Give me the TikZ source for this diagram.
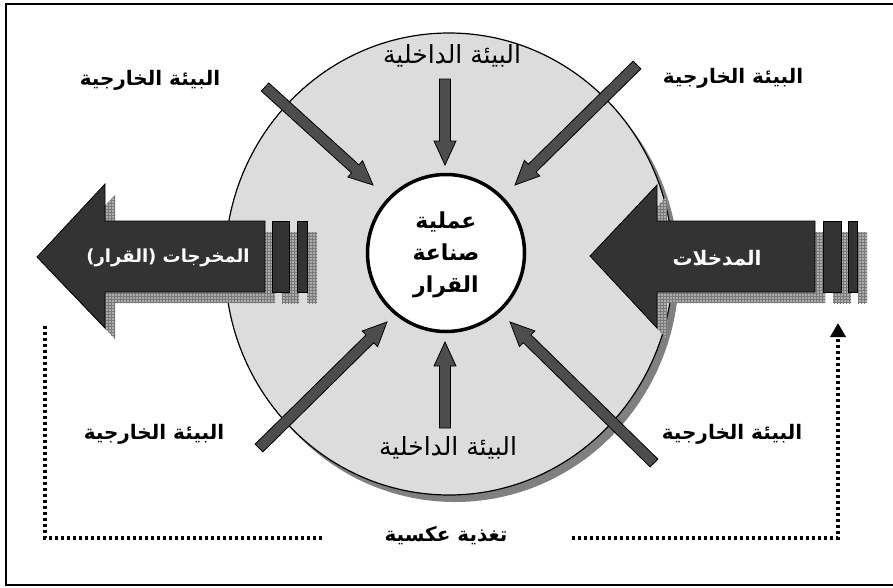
\documentclass[tikz,border=0pt]{standalone}
\usepackage{fontspec}
\usetikzlibrary{calc,patterns,arrows.meta}
\TeXXeTstate=1
\newfontfamily\arabicfont[Script=Arabic]{DejaVu Sans}
\definecolor{circfill}{HTML}{DCDCDC}
\definecolor{circshadow}{HTML}{808080}
\definecolor{bigfill}{HTML}{333333}
\definecolor{diagfill}{HTML}{4D4D4D}
\tikzset{
  lab/.style={font=\arabicfont\bfseries\fontsize{20}{24}\selectfont, inner sep=0pt},
  inlab/.style={font=\arabicfont\fontsize{25}{30}\selectfont, inner sep=0pt},
  whitelab/.style={lab, text=white},
  fatarr/.style={draw=black, line width=0.8pt, fill=diagfill, line join=miter},
  bigarr/.style={draw=black, line width=0.8pt, fill=bigfill},
  shadowfill/.style={fill=gray!65, postaction={pattern=grid, pattern color=gray!95!black}},
  dotline/.style={line width=3.6pt, dash pattern=on 3.4pt off 2.6pt},
}
\newcommand\fatarrow[2]{%
  \draw[fatarr] ($(#1)!5.5pt!90:(#2)$)
    -- ($(#2)!24pt!(#1)!5.5pt!-90:(#1)$)
    -- ($(#2)!24pt!(#1)!11pt!-90:(#1)$)
    -- (#2)
    -- ($(#2)!24pt!(#1)!11pt!90:(#1)$)
    -- ($(#2)!24pt!(#1)!5.5pt!90:(#1)$)
    -- ($(#1)!5.5pt!-90:(#2)$) -- cycle;}
\begin{document}
\begin{tikzpicture}[x=1pt,y=-1pt]
\useasboundingbox (0,0) rectangle (893,587);
\fill[white] (0,0) rectangle (893,587);
% frame
\draw[line width=2pt] (900,4) -- (6,4) -- (6,585) -- (900,585);
% big circle
\fill[circshadow] (455,271) ellipse [x radius=224, y radius=231];
\draw[line width=1.2pt, fill=circfill] (449,264) ellipse [x radius=224, y radius=231];
% left (output) arrow
\begin{scope}[shift={(10,11)}]
  \path[shadowfill] (37,257) -- (105,184) -- (105,221) -- (265,221) -- (265,292) -- (105,292) -- (105,328) -- cycle;
  \path[shadowfill] (272,221) rectangle (289,292);
  \path[shadowfill] (297,221) rectangle (307,292);
\end{scope}
\draw[bigarr] (37,257) -- (105,184) -- (105,221) -- (265,221) -- (265,292) -- (105,292) -- (105,328) -- cycle;
\draw[bigarr] (272,221) rectangle (289,292);
\draw[bigarr] (297,221) rectangle (307,292);
% right (input) arrow
\begin{scope}[shift={(10,11)}]
  \path[shadowfill] (590,256) -- (657,185) -- (657,221) -- (815,221) -- (815,292) -- (657,292) -- (657,328) -- cycle;
  \path[shadowfill] (823,221) rectangle (841,292);
  \path[shadowfill] (848,221) rectangle (857,292);
\end{scope}
\draw[bigarr] (590,256) -- (657,185) -- (657,221) -- (815,221) -- (815,292) -- (657,292) -- (657,328) -- cycle;
\draw[bigarr] (823,221) rectangle (841,292);
\draw[bigarr] (848,221) rectangle (857,292);
% arrow coordinates
\coordinate (tlA) at (265,87);  \coordinate (tlB) at (373,185);
\coordinate (trA) at (637,65);  \coordinate (trB) at (515,185);
\coordinate (tmA) at (445,79);  \coordinate (tmB) at (445,165);
\coordinate (bmA) at (445,428); \coordinate (bmB) at (445,342);
\coordinate (blA) at (259,448); \coordinate (blB) at (387,322);
\coordinate (brA) at (654,463); \coordinate (brB) at (510,322);
\fatarrow{tlA}{tlB}
\fatarrow{trA}{trB}
\fatarrow{tmA}{tmB}
\fatarrow{bmA}{bmB}
\fatarrow{blA}{blB}
\fatarrow{brA}{brB}
% inner circle
\node[circle, draw=black, line width=3.5pt, fill=white, minimum size=157pt, inner sep=0pt] (proc) at (446,253) {};
\node[lab, align=center, font=\arabicfont\bfseries\fontsize{22}{32}\selectfont] (proctext) at (446,255)
  {\beginR عملية\endR\\\beginR صناعة\endR\\\beginR القرار\endR};
% labels
\node[lab] (extTL) at (150,80) {\beginR البيئة الخارجية\endR};
\node[lab] (extTR) at (733,78) {\beginR البيئة الخارجية\endR};
\node[lab] (extBL) at (154,434) {\beginR البيئة الخارجية\endR};
\node[lab] (extBR) at (732,434) {\beginR البيئة الخارجية\endR};
\node[inlab] (intT) at (452,56) {\beginR البيئة الداخلية\endR};
\node[inlab] (intB) at (448,448) {\beginR البيئة الداخلية\endR};
\node[whitelab, font=\arabicfont\bfseries\fontsize{18}{22}\selectfont] (out) at (168,258) {\beginR المخرجات (القرار)\endR};
\node[whitelab] (in) at (717,258) {\beginR المدخلات\endR};
\node[lab] (fb) at (446,536) {\beginR تغذية عكسية\endR};
% feedback
\coordinate (fbL0) at (45,326);
\coordinate (fbL1) at (45,538);
\coordinate (fbL2) at (322,538);
\coordinate (fbR0) at (572,538);
\coordinate (fbR1) at (838,538);
\coordinate (fbR2) at (838,323);
\draw[dotline] (fbL0) -- (fbL1) -- (fbL2);
\draw[dotline, -{Triangle[width=15pt,length=14pt]}] (fbR0) -- (fbR1) -- (fbR2);
\end{tikzpicture}
\end{document}
